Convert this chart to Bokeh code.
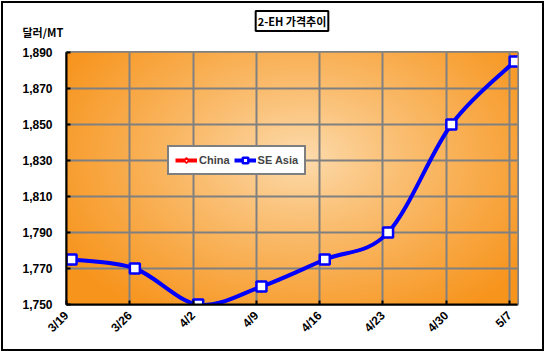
import numpy as np
from bokeh.plotting import figure
from bokeh.models import (FixedTicker, Legend, LegendItem, Title,
                          NumeralTickFormatter)
from bokeh.embed import file_html
from bokeh.resources import INLINE

# ---- data ----
dates = ["3/19", "3/26", "4/2", "4/9", "4/16", "4/23", "4/30", "5/7"]
china = [1775, 1770, 1750, 1760, 1775, 1790, 1850, 1885]
se_asia = [1775, 1770, 1750, 1760, 1775, 1790, 1850, 1885]
y_ticks = [1750, 1770, 1790, 1810, 1830, 1850, 1870, 1890]
title_text = "2-EH 가격추이"
unit_text = "달러/MT"
series_names = ["China", "SE Asia"]

FONT = "Liberation Sans"
KFONT = "Noto Sans CJK KR"

W, H = 543, 350
x_idx = np.arange(len(dates))
x_pts = x_idx + 0.08

p = figure(width=W, height=H, output_backend="svg", toolbar_location=None,
           x_range=(0, 7.125), y_range=(1750, 1890),
           min_border_left=63, min_border_right=29, min_border_top=49,
           min_border_bottom=49)
p.styles = {"border": "2px solid black", "margin": "1px"}
p.border_fill_color = "white"
p.outline_line_color = "#808080"
p.outline_line_width = 3

ny, nx = 252, 451
yy, xx = np.mgrid[0:ny, 0:nx]
cx, cy = nx * 0.52, ny * 0.58
d = np.sqrt(((xx - cx) / (nx * 0.62)) ** 2 + ((yy - cy) / (ny * 0.75)) ** 2)
t = np.clip(d, 0, 1) ** 0.85
light = np.array([253, 222, 178])
dark = np.array([247, 148, 28])
rgb = light[None, None, :] * (1 - t[..., None]) + dark[None, None, :] * t[..., None]
img = np.empty((ny, nx), dtype=np.uint32)
view = img.view(dtype=np.uint8).reshape((ny, nx, 4))
view[..., 0] = rgb[..., 0]
view[..., 1] = rgb[..., 1]
view[..., 2] = rgb[..., 2]
view[..., 3] = 255
bg = p.image_rgba(image=[img], x=0, y=1750, dw=7.125, dh=140)
bg.level = "image"

p.xgrid.ticker = FixedTicker(ticks=list(x_idx))
p.ygrid.ticker = FixedTicker(ticks=y_ticks)
for g in (p.xgrid, p.ygrid):
    g.grid_line_color = "#808080"
    g.grid_line_width = 2

p.xaxis.ticker = FixedTicker(ticks=list(x_idx))
p.xaxis.major_label_overrides = {int(i): s for i, s in zip(x_idx, dates)}
p.xaxis.major_label_orientation = np.pi / 4
p.yaxis.ticker = FixedTicker(ticks=y_ticks)
p.yaxis.formatter = NumeralTickFormatter(format="0,0")
for ax in (p.xaxis, p.yaxis):
    ax.axis_line_color = "black"
    ax.axis_line_width = 2
    ax.major_tick_in = 4
    ax.major_tick_out = 0
    ax.major_tick_line_color = "black"
    ax.major_tick_line_width = 2
    ax.minor_tick_line_color = None
    ax.major_label_text_font = FONT
    ax.major_label_text_font_style = "bold"
    ax.major_label_text_color = "black"
p.xaxis.major_label_text_font_size = "12px"
p.yaxis.major_label_text_font_size = "12px"
p.yaxis.major_label_standoff = 14
p.xaxis.major_label_standoff = 9


def smooth(xs, ys):
    xs = np.asarray(xs, float)
    ys = np.asarray(ys, float)
    n = len(xs)
    px = np.concatenate([[xs[0]], xs, [xs[-1]]])
    py = np.concatenate([[ys[0]], ys, [ys[-1]]])
    seg = dict(x0=[], y0=[], x1=[], y1=[], cx0=[], cy0=[], cx1=[], cy1=[])
    for i in range(n - 1):
        a, b, c, dd = i, i + 1, i + 2, i + 3
        seg["x0"].append(px[b]); seg["y0"].append(py[b])
        seg["x1"].append(px[c]); seg["y1"].append(py[c])
        seg["cx0"].append(px[b] + (px[c] - px[a]) / 6)
        seg["cy0"].append(py[b] + (py[c] - py[a]) / 6)
        seg["cx1"].append(px[c] - (px[dd] - px[b]) / 6)
        seg["cy1"].append(py[c] - (py[dd] - py[b]) / 6)
    return seg


p.bezier(**smooth(x_pts, china), line_color="red", line_width=3)
cn_pts = p.scatter(x_pts, china, marker="diamond", size=11, fill_color="white",
                   line_color="red", line_width=1.5)
p.bezier(**smooth(x_pts, se_asia), line_color="blue", line_width=4)
se_pts = p.scatter(x_pts, se_asia, marker="square", size=10, fill_color="white",
                   line_color="blue", line_width=2.5)

leg_red = p.line([np.nan], [np.nan], line_color="red", line_width=4)
leg_blue = p.line([np.nan], [np.nan], line_color="blue", line_width=4)
legend = Legend(items=[LegendItem(label=series_names[0], renderers=[leg_red, cn_pts]),
                       LegendItem(label=series_names[1], renderers=[leg_blue, se_pts])],
                orientation="horizontal", location=(101, 129))
legend.border_line_color = "black"
legend.border_line_width = 2
legend.background_fill_color = "white"
legend.background_fill_alpha = 1
legend.label_text_font = FONT
legend.label_text_font_style = "bold"
legend.label_text_font_size = "11px"
legend.glyph_width = 22
legend.glyph_height = 14
legend.label_standoff = 2
legend.spacing = 4
legend.padding = 6
legend.margin = 0
p.add_layout(legend, "center")

# unit label (closest to the frame) and boxed title above it
unit = Title(text=unit_text, align="left", offset=-44, standoff=25,
             text_font=KFONT, text_font_size="11px", text_font_style="bold",
             text_color="black")
p.add_layout(unit, "above")
p.title.text = title_text
p.title.align = "center"
p.title.text_font = KFONT
p.title.text_font_size = "11px"
p.title.text_font_style = "bold"
p.title.text_color = "black"
p.title.background_fill_color = "white"
p.title.border_line_color = "black"
p.title.border_line_width = 2
p.title.padding = 2
p.title.standoff = -43

open("out.html", "w").write(file_html(p, INLINE))
